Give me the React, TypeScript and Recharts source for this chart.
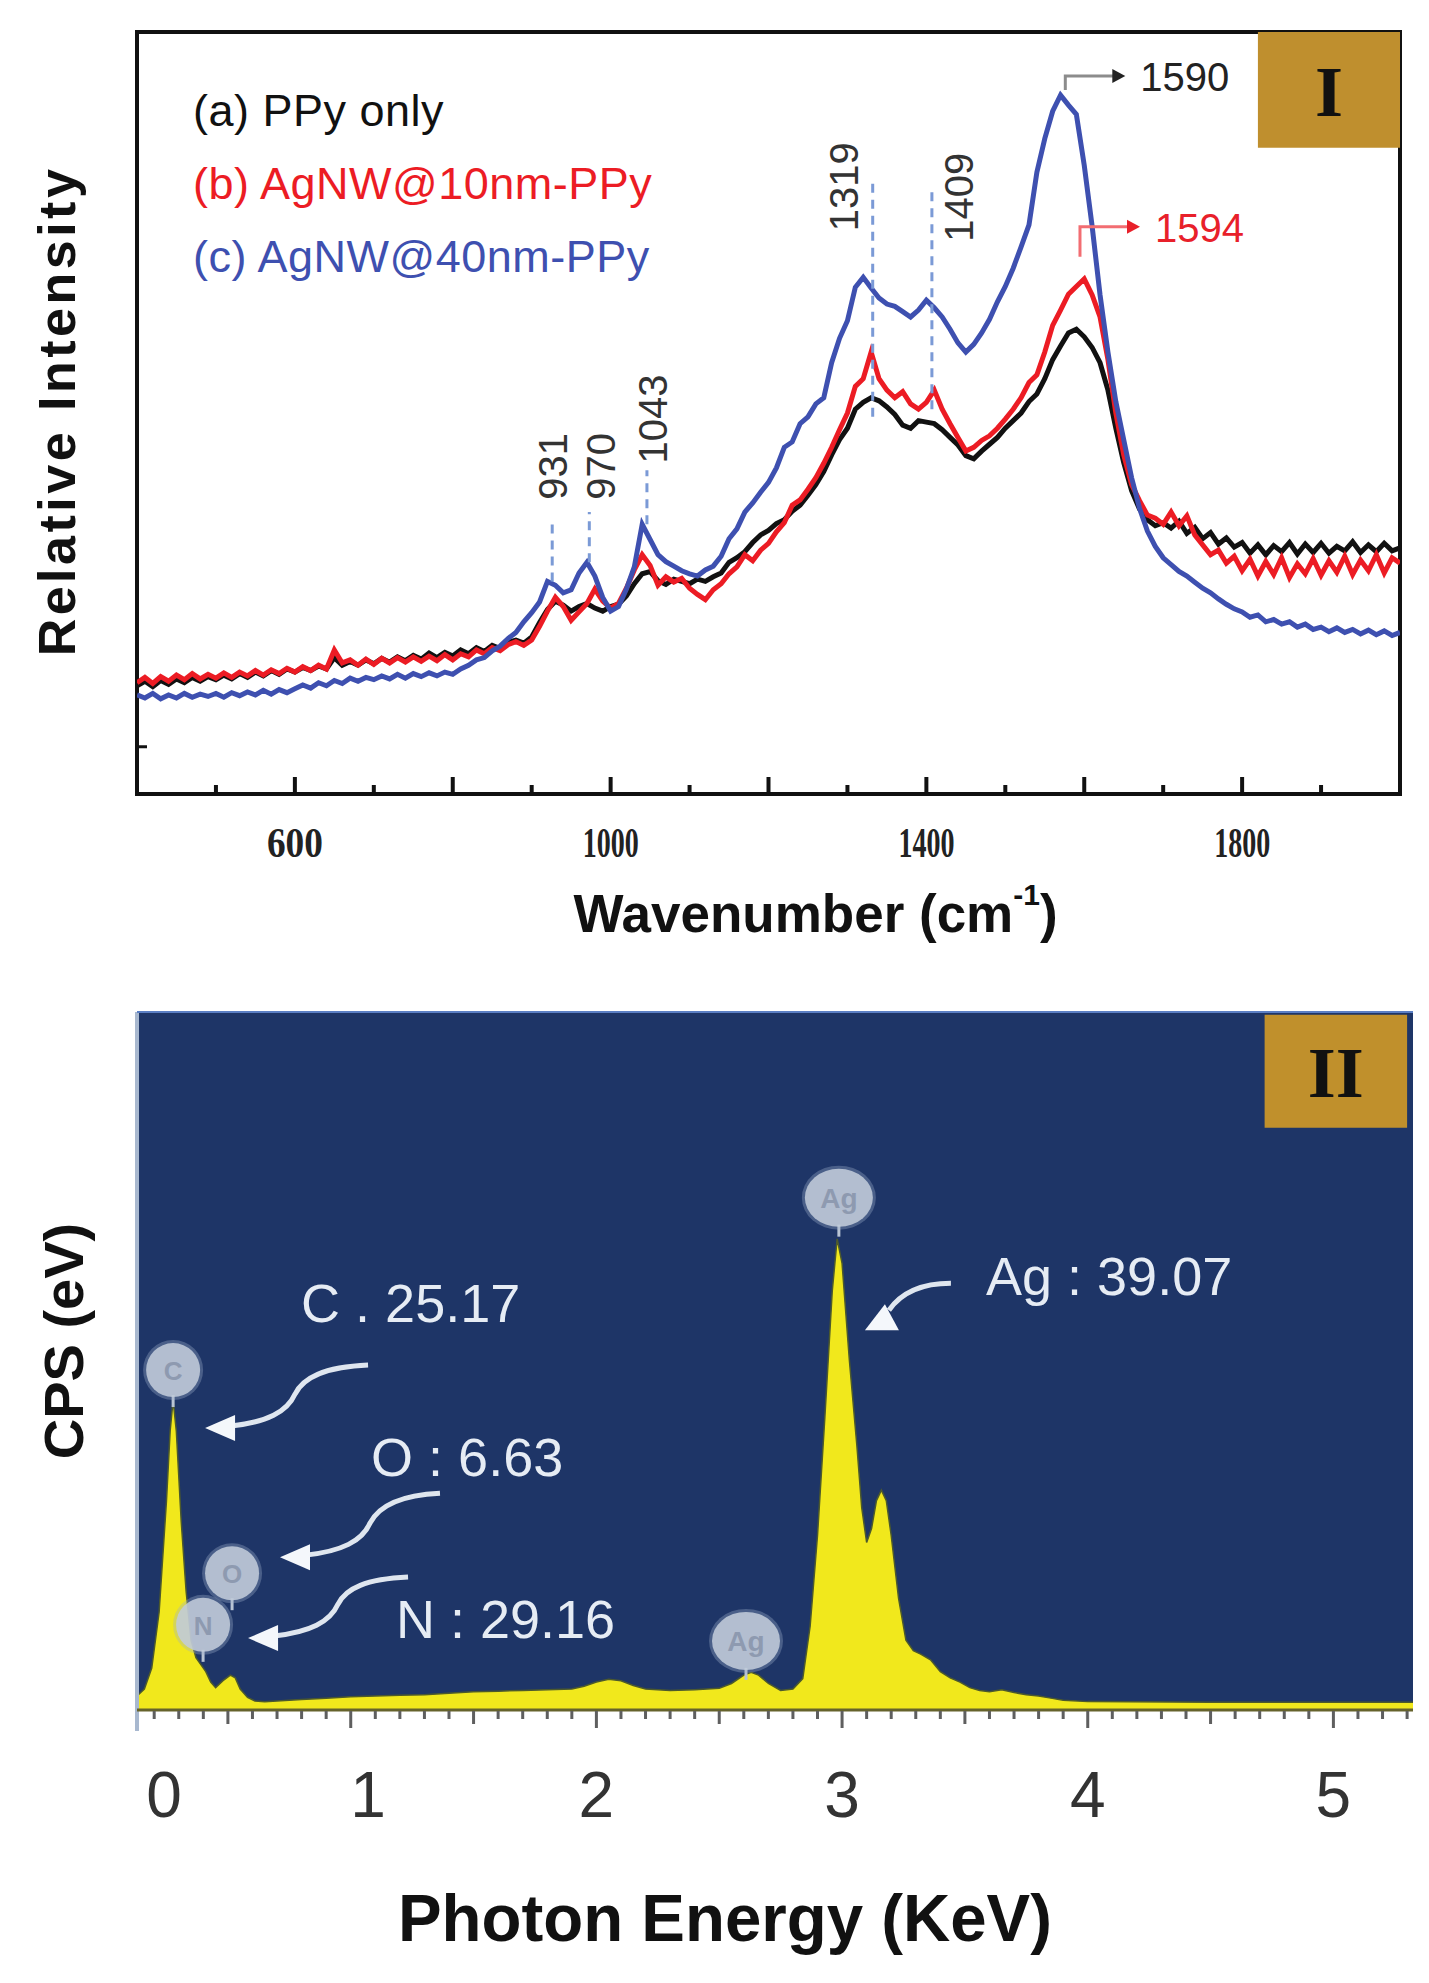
import React from 'react'
import {
  LineChart,
  Line,
  AreaChart,
  Area,
  XAxis,
  YAxis,
  CartesianGrid,
  Legend,
  ReferenceArea,
  ReferenceLine,
  ReferenceDot,
} from 'recharts'

// ---- panel I : Raman spectra (intensity in arbitrary units, 0-100 = plot height)
const wavenumbers = [
  400, 410, 420, 430, 440, 450, 460, 470, 480, 490,
  500, 510, 520, 530, 540, 550, 560, 570, 580, 590,
  600, 610, 620, 630, 640, 650, 660, 670, 680, 690,
  700, 710, 720, 730, 740, 750, 760, 770, 780, 790,
  800, 810, 820, 830, 840, 850, 860, 870, 880, 890,
  900, 910, 920, 930, 940, 950, 960, 970, 980, 990,
  1000, 1010, 1020, 1030, 1040, 1050, 1060, 1070, 1080, 1090,
  1100, 1110, 1120, 1130, 1140, 1150, 1160, 1170, 1180, 1190,
  1200, 1210, 1220, 1230, 1240, 1250, 1260, 1270, 1280, 1290,
  1300, 1310, 1320, 1330, 1340, 1350, 1360, 1370, 1380, 1390,
  1400, 1410, 1420, 1430, 1440, 1450, 1460, 1470, 1480, 1490,
  1500, 1510, 1520, 1530, 1540, 1550, 1560, 1570, 1580, 1590,
  1600, 1610, 1620, 1630, 1640, 1650, 1660, 1670, 1680, 1690,
  1700, 1710, 1720, 1730, 1740, 1750, 1760, 1770, 1780, 1790,
  1800, 1810, 1820, 1830, 1840, 1850, 1860, 1870, 1880, 1890,
  1900, 1910, 1920, 1930, 1940, 1950, 1960, 1970, 1980, 1990,
  2000,
]

const ppyOnly = [
  14.2, 14.8, 14.1, 14.9, 14.4, 15.1, 14.6, 15.3, 14.8, 15.4,
  15.0, 15.6, 15.1, 15.8, 15.3, 16.0, 15.5, 16.2, 15.7, 16.4,
  16.0, 16.6, 16.2, 16.8, 16.4, 17.9, 16.9, 17.4, 16.9, 17.6,
  17.1, 17.8, 17.3, 18.0, 17.5, 18.2, 17.7, 18.5, 17.9, 18.6,
  18.1, 18.9, 18.4, 19.2, 18.7, 19.5, 19.1, 19.9, 20.2, 19.8,
  20.6, 22.5, 24.2, 25.3, 24.8, 24.0, 24.6, 25.0, 24.4, 24.0,
  24.6, 24.9, 26.0, 27.6, 28.9, 29.2, 28.0, 27.5, 28.2, 27.9,
  27.6, 28.2, 27.9, 28.5, 29.0, 30.4, 31.0, 31.8, 33.0, 34.0,
  34.6, 35.5, 36.0, 37.1, 37.9, 39.2, 40.6, 42.3, 44.5, 46.5,
  48.0, 50.5, 51.4, 52.0, 51.6, 50.8, 49.8, 48.4, 48.0, 49.0,
  48.8, 48.6, 47.8, 46.8, 45.8, 44.4, 44.0, 45.0, 45.9, 46.8,
  48.0, 49.0, 50.0, 51.5, 52.5, 54.5, 57.0, 58.8, 60.5, 61.0,
  60.0, 58.6, 56.6, 53.0, 48.0, 43.5, 39.8, 37.4, 36.0, 35.2,
  35.6, 34.9, 35.8, 34.2, 35.0, 33.5, 34.3, 32.8, 33.6, 32.4,
  33.0, 31.6, 32.7, 31.4, 32.6, 31.8, 33.0, 31.5, 32.8, 31.7,
  32.9, 31.6, 32.5, 31.9, 33.1, 31.7, 32.7, 31.8, 32.9, 31.9,
  32.3,
]

const agnw10 = [
  14.6, 15.3, 14.5, 15.4, 14.8, 15.6, 15.0, 15.8, 15.1, 15.7,
  15.2, 15.9, 15.3, 16.0, 15.5, 16.2, 15.6, 16.3, 15.8, 16.5,
  16.0, 16.7, 16.2, 16.9, 16.4, 18.9, 17.2, 17.6, 16.9, 17.7,
  17.0, 17.8, 17.2, 17.9, 17.3, 18.0, 17.4, 18.1, 17.5, 18.3,
  17.6, 18.4, 18.0, 18.9, 18.4, 19.2, 18.8, 19.6, 20.0, 19.5,
  20.2, 22.0, 24.0, 25.8, 24.6, 22.8, 23.9, 25.0, 26.9, 25.3,
  24.4, 25.0, 27.0, 29.4, 31.4, 30.0, 27.4, 28.5, 27.8, 28.3,
  27.0, 26.2, 25.5, 26.8, 27.6, 28.9, 29.8, 31.4, 30.6, 32.0,
  32.9, 34.4, 35.6, 37.9, 38.6, 40.0, 41.5, 43.4, 45.5, 47.8,
  50.0, 53.5, 54.5, 58.0, 54.5, 53.0, 52.0, 52.8, 51.2, 50.5,
  51.4, 53.0, 50.5, 48.6, 46.8, 45.0, 45.5, 46.4, 47.0, 48.0,
  49.2, 50.5, 52.0, 54.0, 55.0, 58.0, 61.5, 63.5, 65.6, 66.6,
  67.6, 65.5, 62.6, 57.0, 50.0, 44.5, 40.6, 38.5, 36.6, 36.2,
  35.4, 37.0, 35.2, 36.5, 34.0, 32.7, 31.4, 32.0, 30.3, 31.2,
  29.3, 30.8, 28.6, 30.5, 28.8, 31.0, 28.4, 30.2, 28.9, 30.9,
  28.7, 30.6, 29.1, 31.2, 28.8, 30.7, 29.3, 31.4, 29.0, 31.0,
  30.3,
]

const agnw40 = [
  13.0, 12.6, 13.2, 12.5, 13.0, 12.6, 13.2, 12.7, 13.1, 12.8,
  13.2, 12.7, 13.3, 12.9, 13.4, 13.0, 13.6, 13.1, 13.7, 13.3,
  13.8, 14.3, 13.9, 14.6, 14.2, 14.9, 14.5, 15.2, 14.8, 15.3,
  15.0, 15.5, 15.1, 15.7, 15.2, 15.8, 15.4, 15.9, 15.5, 16.0,
  15.7, 16.4, 16.9, 17.6, 17.9, 18.8, 19.4, 20.4, 21.2, 22.6,
  23.8, 25.2, 27.9, 27.4, 26.4, 26.8, 29.0, 30.4, 28.6, 25.8,
  24.0, 24.6, 26.9, 29.8, 35.4, 33.4, 31.4, 30.5, 29.9, 29.3,
  28.9, 28.6, 29.4, 29.9, 31.2, 33.5, 34.8, 37.0, 38.2, 39.6,
  40.9, 42.8, 45.5, 46.2, 48.6, 49.5, 51.2, 52.0, 56.6, 59.8,
  62.1, 66.5, 67.8, 66.4, 65.1, 64.3, 64.0, 63.3, 62.6, 63.5,
  64.8, 63.8, 62.6, 61.0, 59.2, 58.0, 59.0, 60.5, 62.3, 64.6,
  66.6, 69.0, 71.8, 74.7, 81.6, 86.0, 89.6, 91.7, 90.4, 89.2,
  82.5, 74.5, 65.5, 58.0, 51.5, 46.5, 41.5, 37.5, 34.5, 32.5,
  31.0, 30.1, 29.2, 28.6, 27.8, 27.0, 26.4, 25.6, 24.9, 24.3,
  23.9, 23.2, 23.5, 22.6, 22.9, 22.3, 22.6, 21.9, 22.3, 21.6,
  21.9, 21.3, 21.8, 21.2, 21.6, 21.0, 21.5, 20.9, 21.4, 20.8,
  21.2,
]

const ramanTicks = [500, 600, 700, 800, 900, 1000, 1100, 1200, 1300, 1400, 1500, 1600, 1700, 1800, 1900]
const ramanTickLabels = [600, 1000, 1400, 1800]

// dashed peak markers
const peakNames = ['931', '970', '1043', '1319', '1409']
const peakLineX = [926, 973, 1046, 1332, 1407]
const peakLineTop = [36.0, 37.0, 42.5, 81.0, 79.1]
const peakLineBottom = [27.9, 30.4, 35.4, 49.5, 50.5]
const peakLabelX = [927, 988, 1054, 1296, 1441]
const peakLabelY = [43.0, 43.0, 49.2, 79.7, 78.3]

// ---- panel II : EDS spectrum (counts in arbitrary units, 0-100 = plot height)
const energies = [
  0.13, 0.16, 0.19, 0.22, 0.25, 0.265, 0.277, 0.29, 0.31, 0.33,
  0.35, 0.37, 0.39, 0.41, 0.43, 0.45, 0.48, 0.51, 0.53, 0.55,
  0.58, 0.61, 0.65, 0.7, 0.8, 0.9, 1.0, 1.1, 1.2, 1.3,
  1.4, 1.5, 1.6, 1.7, 1.8, 1.9, 1.95, 2.0, 2.05, 2.1,
  2.15, 2.2, 2.3, 2.4, 2.5, 2.55, 2.6, 2.63, 2.66, 2.7,
  2.75, 2.8, 2.84, 2.87, 2.9, 2.93, 2.96, 2.98, 3.0, 3.03,
  3.06, 3.08, 3.1, 3.12, 3.14, 3.16, 3.18, 3.2, 3.23, 3.26,
  3.29, 3.32, 3.36, 3.4, 3.44, 3.48, 3.52, 3.56, 3.6, 3.65,
  3.7, 3.75, 3.8, 3.85, 3.9, 4.0, 4.5, 5.0, 5.324,
]
const counts = [
  2.0, 3.0, 6.0, 14.0, 30.0, 40.0, 44.4, 40.0, 27.0, 17.0,
  10.0, 7.5, 6.5, 5.5, 4.0, 3.2, 4.2, 5.0, 4.6, 3.0,
  1.8, 1.3, 1.2, 1.3, 1.5, 1.7, 1.9, 2.0, 2.1, 2.2,
  2.4, 2.6, 2.7, 2.8, 2.9, 3.0, 3.4, 4.0, 4.4, 4.2,
  3.5, 3.0, 2.8, 2.9, 3.1, 3.8, 5.0, 5.4, 5.0, 3.8,
  2.8, 3.0, 4.5, 12.0, 25.0, 42.0, 60.0, 67.5, 64.0, 50.0,
  38.0, 29.0, 24.0, 26.0, 30.0, 31.5, 30.0, 25.0, 16.0, 10.0,
  8.5, 8.0, 7.2, 5.5, 4.6, 4.0, 3.2, 2.8, 2.6, 2.9,
  2.5, 2.2, 2.0, 1.7, 1.4, 1.2, 1.1, 1.1, 1.1,
]

const edsTicks = [
  0.2, 0.3, 0.4, 0.5, 0.6, 0.7, 0.8, 0.9, 1.0, 1.1, 1.2, 1.3, 1.4, 1.5, 1.6, 1.7, 1.8, 1.9, 2.0,
  2.1, 2.2, 2.3, 2.4, 2.5, 2.6, 2.7, 2.8, 2.9, 3.0, 3.1, 3.2, 3.3, 3.4, 3.5, 3.6, 3.7, 3.8, 3.9,
  4.0, 4.1, 4.2, 4.3, 4.4, 4.5, 4.6, 4.7, 4.8, 4.9, 5.0, 5.1, 5.2, 5.3,
]
const edsLabelAt = [0.24, 1.07, 2, 3, 4, 5]
const edsLabelText = ['0', '1', '2', '3', '4', '5']

// element balloons sitting on the peaks
const elementNames = ['C', 'N', 'O', 'Ag', 'Ag']
const elementX = [0.277, 0.399, 0.517, 2.987, 2.609]
const elementY = [48.7, 12.2, 19.6, 73.4, 9.9]

// quantification text + arrow tips
const quantText = ['C . 25.17', 'O : 6.63', 'N : 29.16', 'Ag : 39.07']
const quantX = [0.798, 1.083, 1.184, 3.586]
const quantY = [58.3, 36.2, 13.0, 62.2]
const arrowX = [0.407, 0.712, 0.582, 3.093]
const arrowY = [40.4, 21.9, 10.3, 54.4]

const ramanRows = wavenumbers.map((w, i) => ({ w, a: ppyOnly[i], b: agnw10[i], c: agnw40[i] }))
const edsRows = energies.map((e, i) => ({ e, cps: counts[i] }))

const SANS = "'Liberation Sans', Arial, Helvetica, sans-serif"
const SERIF = "'Liberation Serif', 'Times New Roman', serif"

function RamanTick({ x, y, payload }: any) {
  const v = payload.value
  const major = v % 200 === 0
  return (
    <g>
      <line x1={x} x2={x} y1={y} y2={y - (major ? 17 : 9)} stroke="#111" strokeWidth={4} />
      {ramanTickLabels.includes(v) && (
        <text
          x={x}
          y={y + 49}
          textAnchor="middle"
          dominantBaseline="central"
          fontFamily={SERIF}
          fontWeight={700}
          fontSize={42}
          textLength={56}
          lengthAdjust="spacingAndGlyphs"
          fill="#222"
        >
          {v}
        </text>
      )}
    </g>
  )
}

function RamanYTick({ x, y }: any) {
  return <line x1={x} x2={x + 10} y1={y} y2={y} stroke="#111" strokeWidth={3} />
}

function ramanXTitle({ viewBox }: any) {
  const cx = viewBox.x + viewBox.width / 2 + 47
  const cy = viewBox.y + 119
  return (
    <text x={cx} y={cy} textAnchor="middle" dominantBaseline="central" fontFamily={SANS} fontWeight={700} fontSize={53} fill="#111">
      Wavenumber (cm
      <tspan dy={-19} fontSize={30}>-1</tspan>
      <tspan dy={19}>)</tspan>
    </text>
  )
}

function ramanYTitle({ viewBox }: any) {
  const cx = 57
  const cy = viewBox.y + viewBox.height / 2 - 2
  return (
    <text
      x={cx}
      y={cy}
      transform={`rotate(-90 ${cx} ${cy})`}
      textAnchor="middle"
      dominantBaseline="central"
      fontFamily={SANS}
      fontWeight={700}
      fontSize={52}
      letterSpacing={3.5}
      fill="#111"
    >
      Relative  Intensity
    </text>
  )
}

function PanelTag({ viewBox, text }: any) {
  return (
    <text
      x={viewBox.x + viewBox.width / 2}
      y={viewBox.y + viewBox.height / 2 + 2}
      textAnchor="middle"
      dominantBaseline="central"
      fontFamily={SERIF}
      fontWeight={700}
      fontSize={72}
      fill="#111"
    >
      {text}
    </text>
  )
}

function RamanLegend({ payload }: any) {
  return (
    <div style={{ fontFamily: SANS, fontSize: 45, lineHeight: '73px', letterSpacing: 0.5, whiteSpace: 'nowrap' }}>
      {(payload || []).map((entry: any) => (
        <div key={entry.value} style={{ color: entry.color }}>
          {entry.value}
        </div>
      ))}
    </div>
  )
}

function PeakText({ cx, cy, text }: any) {
  return (
    <text
      x={cx}
      y={cy}
      transform={`rotate(-90 ${cx} ${cy})`}
      textAnchor="middle"
      dominantBaseline="central"
      fontFamily={SANS}
      fontSize={40}
      fill="#333"
    >
      {text}
    </text>
  )
}

function MaxArrow({ cx, cy, text, color, lineColor, rise }: any) {
  return (
    <g>
      <path d={`M${cx},${cy} V${cy - rise} H${cx + 50}`} fill="none" stroke={lineColor} strokeWidth={3} />
      <path d={`M${cx + 47},${cy - rise - 7} L${cx + 60},${cy - rise} L${cx + 47},${cy - rise + 7} Z`} fill={color} />
      <text x={cx + 75} y={cy - rise + 1} dominantBaseline="central" fontFamily={SANS} fontSize={40} fill={color}>
        {text}
      </text>
    </g>
  )
}

function RamanChart() {
  return (
    <LineChart width={1429} height={960} data={ramanRows} margin={{ top: 32, right: 29, bottom: 165, left: 136 }}>
      <XAxis
        dataKey="w"
        type="number"
        domain={[400, 2000]}
        ticks={ramanTicks}
        interval={0}
        height={1}
        tickSize={0}
        tickMargin={0}
        tickLine={false}
        axisLine={{ stroke: '#111', strokeWidth: 4 }}
        tick={<RamanTick />}
        label={ramanXTitle}
        allowDataOverflow
      />
      <YAxis
        type="number"
        domain={[0, 100]}
        ticks={[6.2]}
        width={1}
        tickSize={0}
        tickMargin={0}
        tickLine={false}
        axisLine={false}
        tick={<RamanYTick />}
        label={ramanYTitle}
        allowDataOverflow
      />
      <ReferenceArea x1={400} x2={2000} y1={0} y2={100} fill="none" stroke="#111" strokeWidth={4} />
      <ReferenceArea x1={1820} x2={2000} y1={84.8} y2={100} fill="#bf8f2e" fillOpacity={1} stroke="none" label={<PanelTag text="I" />} />

      <Line dataKey="a" name="(a) PPy only" stroke="#111111" strokeWidth={5} dot={false} activeDot={false} isAnimationActive={false} />
      <Line dataKey="b" name="(b) AgNW@10nm-PPy" stroke="#ec1c24" strokeWidth={5} dot={false} activeDot={false} isAnimationActive={false} />
      <Line dataKey="c" name="(c) AgNW@40nm-PPy" stroke="#3e50b0" strokeWidth={5} dot={false} activeDot={false} isAnimationActive={false} />

      {peakNames.map((name, i) => (
        <ReferenceLine
          key={`pl-${name}`}
          segment={[
            { x: peakLineX[i], y: peakLineBottom[i] },
            { x: peakLineX[i], y: peakLineTop[i] },
          ]}
          stroke="#7b9ad6"
          strokeWidth={3}
          strokeDasharray="9 7"
        />
      ))}
      {peakNames.map((name, i) => (
        <ReferenceDot
          key={`pt-${name}`}
          x={peakLabelX[i]}
          y={peakLabelY[i]}
          r={0}
          shape={(p: any) => <PeakText cx={p.cx} cy={p.cy} text={name} />}
        />
      ))}
      <ReferenceDot
        x={1576}
        y={92.4}
        r={0}
        shape={(p: any) => <MaxArrow cx={p.cx} cy={p.cy} rise={14} text="1590" color="#222" lineColor="#8c8c8c" />}
      />
      <ReferenceDot
        x={1594.6}
        y={70.5}
        r={0}
        shape={(p: any) => <MaxArrow cx={p.cx} cy={p.cy} rise={30} text="1594" color="#e8202a" lineColor="#f26d72" />}
      />

      <Legend
        layout="vertical"
        align="center"
        verticalAlign="middle"
        wrapperStyle={{ left: 193, top: 74, width: 'auto' }}
        content={RamanLegend}
      />
    </LineChart>
  )
}

function EdsTickMark({ x, y, payload }: any) {
  const v = payload.value
  const whole = Math.abs(v - Math.round(v)) < 1e-6
  const half = Math.abs(v * 2 - Math.round(v * 2)) < 1e-6
  const len = whole ? 18 : half ? 14 : 9
  return <line x1={x} x2={x} y1={y + 1} y2={y + len} stroke="#5f5f5f" strokeWidth={3} />
}

function EdsTickLabel({ x, y, payload }: any) {
  const idx = edsLabelAt.indexOf(payload.value)
  return (
    <text x={x} y={y + 84} textAnchor="middle" dominantBaseline="central" fontFamily={SANS} fontSize={64} fill="#333">
      {edsLabelText[idx]}
    </text>
  )
}

function edsXTitle({ viewBox }: any) {
  const cx = viewBox.x + viewBox.width / 2 - 50
  const cy = viewBox.y + 207
  return (
    <text
      x={cx}
      y={cy}
      textAnchor="middle"
      dominantBaseline="central"
      fontFamily={SANS}
      fontWeight={700}
      fontSize={66}
      textLength={654}
      lengthAdjust="spacingAndGlyphs"
      fill="#111"
    >
      Photon Energy (KeV)
    </text>
  )
}

function edsYTitle({ viewBox }: any) {
  const cx = 63
  const cy = viewBox.y + viewBox.height / 2 - 20
  return (
    <text
      x={cx}
      y={cy}
      transform={`rotate(-90 ${cx} ${cy})`}
      textAnchor="middle"
      dominantBaseline="central"
      fontFamily={SANS}
      fontWeight={700}
      fontSize={56}
      fill="#111"
    >
      CPS (eV)
    </text>
  )
}

function ElementBalloon({ cx, cy, name }: any) {
  const big = name === 'Ag'
  const rx = big ? 34 : 27
  const ry = big ? 29 : 27
  return (
    <g>
      <line x1={cx} x2={cx} y1={cy + ry - 2} y2={cy + ry + 10} stroke="#b9c4d4" strokeWidth={3} />
      <ellipse cx={cx} cy={cy} rx={rx + 3} ry={ry + 3} fill="#9fb0c8" fillOpacity={0.35} />
      <ellipse cx={cx} cy={cy} rx={rx} ry={ry} fill="#c2ccda" fillOpacity={0.88} />
      <text x={cx} y={cy + 1} textAnchor="middle" dominantBaseline="central" fontFamily={SANS} fontWeight={700} fontSize={big ? 28 : 26} fill="#8e9ab0">
        {name}
      </text>
    </g>
  )
}

function QuantText({ cx, cy, text }: any) {
  return (
    <text x={cx} y={cy} dominantBaseline="central" fontFamily={SANS} fontSize={54} fill="#e6ecf4">
      {text}
    </text>
  )
}

function CurvedArrow({ cx, cy, kind }: any) {
  if (kind === 3) {
    return (
      <g>
        <path d={`M${cx + 86},${cy - 47} C${cx + 60},${cy - 47} ${cx + 38},${cy - 40} ${cx + 24},${cy - 20}`} fill="none" stroke="#dfe6ef" strokeWidth={5} />
        <path d={`M${cx},${cy} L${cx + 34},${cy} L${cx + 20},${cy - 26} Z`} fill="#f4f7fb" />
      </g>
    )
  }
  const tail = kind === 0 ? [163, -63] : kind === 1 ? [160, -64] : [160, -61]
  return (
    <g>
      <path
        d={`M${cx + tail[0]},${cy + tail[1]} C${cx + 118},${cy + tail[1] + 2} ${cx + 98},${cy - 50} ${cx + 90},${cy - 34} C${cx + 82},${cy - 16} ${cx + 62},${cy - 6} ${cx + 26},${cy - 2}`}
        fill="none"
        stroke="#dfe6ef"
        strokeWidth={5}
      />
      <path d={`M${cx},${cy} L${cx + 30},${cy - 13} L${cx + 30},${cy + 13} Z`} fill="#f4f7fb" />
    </g>
  )
}

function EdsChart() {
  return (
    <AreaChart width={1429} height={1023} data={edsRows} margin={{ top: 52, right: 16, bottom: 271, left: 136 }}>
      <CartesianGrid fill="#1e3567" fillOpacity={1} stroke="none" horizontal={false} vertical={false} />
      <XAxis
        dataKey="e"
        type="number"
        domain={[0.13, 5.324]}
        ticks={edsTicks}
        interval={0}
        height={1}
        tickSize={0}
        tickMargin={0}
        tickLine={false}
        axisLine={{ stroke: '#66632c', strokeWidth: 3 }}
        tick={<EdsTickMark />}
        allowDataOverflow
      />
      <XAxis
        xAxisId="lab"
        dataKey="e"
        type="number"
        domain={[0.13, 5.324]}
        ticks={edsLabelAt}
        interval={0}
        height={1}
        tickSize={0}
        tickMargin={0}
        tickLine={false}
        axisLine={false}
        tick={<EdsTickLabel />}
        label={edsXTitle}
        allowDataOverflow
      />
      <YAxis type="number" domain={[0, 100]} width={1} tick={false} tickLine={false} axisLine={false} label={edsYTitle} allowDataOverflow />

      <Area
        dataKey="cps"
        type="linear"
        stroke="#4d5a2c"
        strokeWidth={1.5}
        fill="#f1e81c"
        fillOpacity={1}
        dot={false}
        activeDot={false}
        isAnimationActive={false}
      />

      <ReferenceLine segment={[{ x: 0.13, y: -3 }, { x: 0.13, y: 100 }]} ifOverflow="visible" stroke="#a8b8cf" strokeWidth={4} />
      <ReferenceLine y={100} stroke="#5b7fc4" strokeWidth={2} />
      <ReferenceArea x1={4.72} x2={5.3} y1={83.4} y2={99.6} fill="#c0902c" fillOpacity={1} stroke="none" label={<PanelTag text="II" />} />

      {elementNames.map((name, i) => (
        <ReferenceDot
          key={`el-${i}`}
          x={elementX[i]}
          y={elementY[i]}
          r={0}
          shape={(p: any) => <ElementBalloon cx={p.cx} cy={p.cy} name={name} />}
        />
      ))}
      {quantText.map((text, i) => (
        <ReferenceDot
          key={`ar-${i}`}
          x={arrowX[i]}
          y={arrowY[i]}
          r={0}
          shape={(p: any) => <CurvedArrow cx={p.cx} cy={p.cy} kind={i} />}
        />
      ))}
      {quantText.map((text, i) => (
        <ReferenceDot
          key={`q-${i}`}
          x={quantX[i]}
          y={quantY[i]}
          r={0}
          shape={(p: any) => <QuantText cx={p.cx} cy={p.cy} text={text} />}
        />
      ))}
    </AreaChart>
  )
}

export default function App() {
  return (
    <div style={{ position: 'relative', width: 1429, height: 1983, background: '#fff', fontFamily: SANS }}>
      <style>{'body{margin:0}'}</style>
      <div style={{ position: 'absolute', left: 0, top: 0 }}>
        <RamanChart />
      </div>
      <div style={{ position: 'absolute', left: 0, top: 960 }}>
        <EdsChart />
      </div>
    </div>
  )
}
